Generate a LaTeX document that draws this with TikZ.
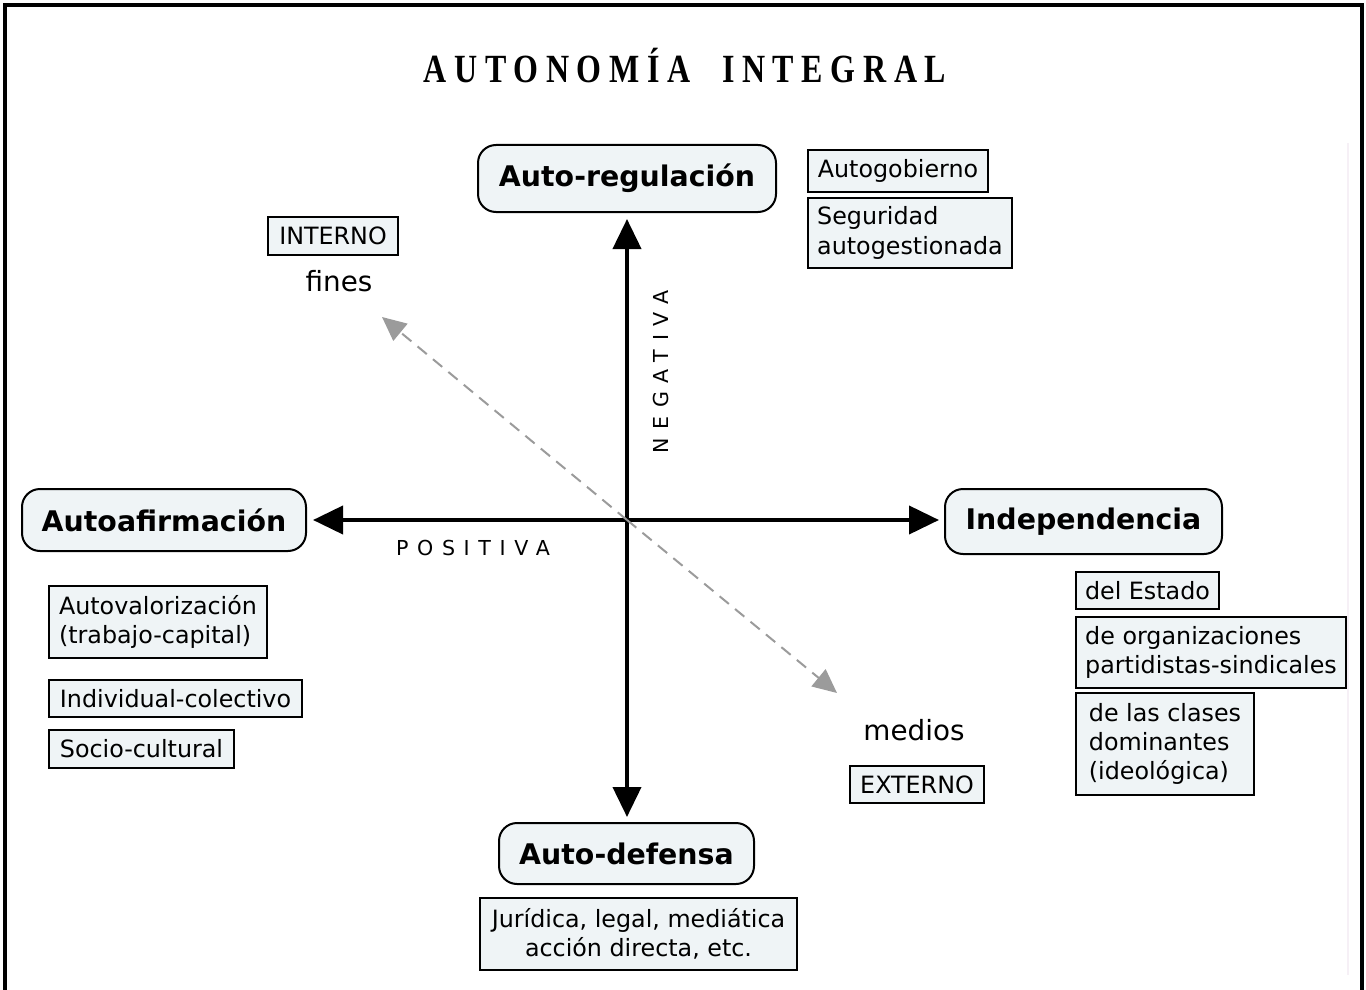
\documentclass[tikz,border=0pt]{standalone}
\usepackage{fontspec}
\setmainfont{DejaVu Sans}
\newfontfamily\titlefont[FakeStretch=0.8,LetterSpace=19]{Liberation Serif}
\newfontfamily\spacedfont[LetterSpace=42]{DejaVu Sans}
\usetikzlibrary{arrows.meta}
\definecolor{boxfill}{RGB}{239,244,246}
\definecolor{diaggray}{RGB}{155,155,155}
\definecolor{faintline}{RGB}{246,240,246}
\tikzset{
  pole/.style={draw, line width=1pt, rounded corners=9pt, fill=boxfill,
    inner sep=2pt, font=\fontsize{14.2}{17}\selectfont\bfseries},
  tag/.style={draw, line width=1.4pt, fill=boxfill, inner sep=2pt,
    align=left, font=\fontsize{11.9}{14.6}\selectfont},
  axis/.style={line width=2pt, -{Triangle[width=14pt,length=15pt]}},
  diag/.style={draw=diaggray, line width=1pt, dash pattern=on 6pt off 4pt,
    -{Triangle[width=11pt,length=12pt]}},
  word/.style={inner sep=0pt, font=\fontsize{13.9}{16}\selectfont},
  axislabel/.style={inner sep=0pt, font=\fontsize{10.3}{12}\spacedfont}
}
\begin{document}
\begin{tikzpicture}[x=0.5pt,y=-0.5pt]
\useasboundingbox (0,0) rectangle (1366,990);

% page frame, open at the bottom
\draw[line width=2pt, line join=miter] (5,990) -- (5,5) -- (1362,5) -- (1362,990);
\draw[faintline, line width=0.6pt] (1348,143) -- (1348,975);

% title
\node[inner sep=0pt, font=\fontsize{20}{22}\titlefont\bfseries] (title) at (685,66) {AUTONOMÍA\hspace{16pt}INTEGRAL};

% the four poles
\node[pole, minimum width=149pt, minimum height=33.5pt] (reg) at (627,178.5) {Auto-regulación};
\node[pole, minimum width=142pt, minimum height=31pt] (afi) at (164,520) {Autoafirmación};
\node[pole, minimum width=138.5pt, minimum height=32.5pt] (ind) at (1083.5,521.5) {Independencia};
\node[pole, minimum width=127.5pt, minimum height=30.5pt] (def) at (626.5,853.5) {Auto-defensa};

% centre of the cross
\coordinate (c) at (627,520);

% axes, kept straight by projecting onto the centre
\draw[axis, shorten >=3pt] (c) -- (c |- reg.south);
\draw[axis, shorten >=2.5pt] (c) -- (c |- def.north);
\draw[axis, shorten >=3pt] (c) -- (c -| afi.east);
\draw[axis, shorten >=2.5pt] (c) -- (c -| ind.west);

% diagonal: fines / medios
\coordinate (finT) at (382,317);
\coordinate (medT) at (837,693);
\draw[diag] (c) -- (finT);
\draw[diag] (c) -- (medT);

% axis labels
\node[axislabel, rotate=90] (neg) at (661,372) {NEGATIVA};
\node[axislabel] (pos) at (473,548) {POSITIVA};

% interno / externo
\node[tag, minimum width=65pt, minimum height=19pt] (int) at (333,236) {INTERNO};
\node[word] (fines) at (339,281) {fines};
\node[word] (medios) at (914,730) {medios};
\node[tag, minimum width=67pt, minimum height=18.5pt] (ext) at (917,784.5) {EXTERNO};

% auto-regulación details
\node[tag, minimum width=90pt, minimum height=21pt] (gob) at (898,171) {Autogobierno};
\node[tag, minimum width=102pt, minimum height=35pt] (seg) at (910,233) {Seguridad\\autogestionada};

% autoafirmación details
\node[tag, minimum width=109pt, minimum height=36pt] (val) at (158,622) {Autovalorización\\(trabajo-capital)};
\node[tag, minimum width=126.5pt, minimum height=18.5pt] (col) at (175.5,698.5) {Individual-colectivo};
\node[tag, minimum width=92.5pt, minimum height=19pt] (soc) at (141.5,749) {Socio-cultural};

% independencia details
\node[tag, minimum width=71.5pt, minimum height=18.5pt] (est) at (1147.5,590.5) {del Estado};
\node[tag, minimum width=135pt, minimum height=35.5pt] (org) at (1211,652.5) {de organizaciones\\partidistas-sindicales};
\node[tag, minimum width=89pt, minimum height=51pt] (cla) at (1165,744) {de las clases\\dominantes\\(ideológica)};

% auto-defensa details
\node[tag, align=center, minimum width=158.5pt, minimum height=36pt] (jur) at (638.5,934) {Jurídica, legal, mediática\\acción directa, etc.};
\end{tikzpicture}
\end{document}
